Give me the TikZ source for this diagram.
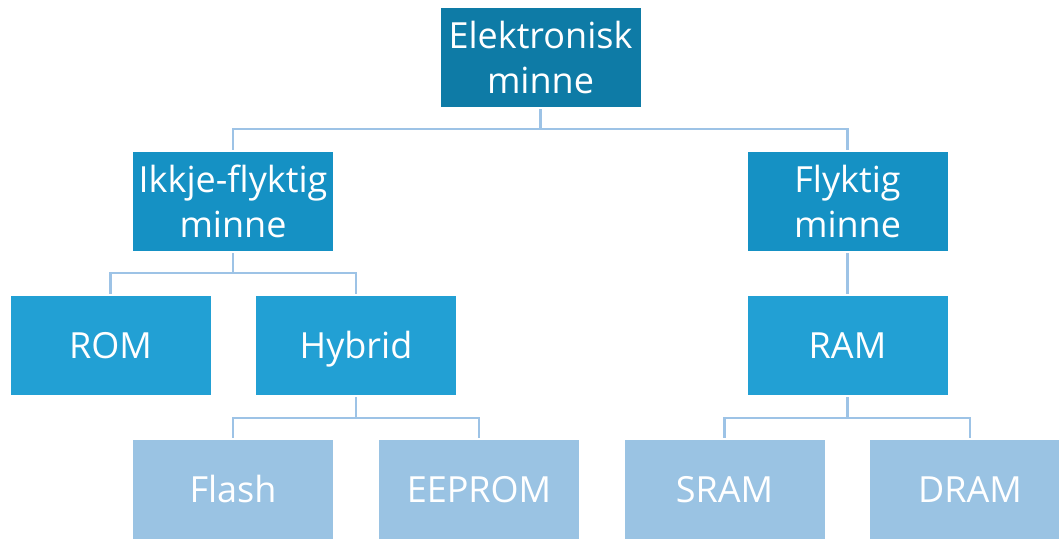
\documentclass[tikz,border=0pt]{standalone}
\usepackage{fontspec}
\setmainfont{Open Sans}
\definecolor{levelA}{RGB}{14,123,166}
\definecolor{levelB}{RGB}{21,145,196}
\definecolor{levelC}{RGB}{34,160,212}
\definecolor{levelD}{RGB}{154,195,227}
\definecolor{linkc}{RGB}{157,195,230}
\tikzset{
  memblock/.style={rectangle, inner sep=0pt, minimum width=150pt, minimum height=74pt,
    text=white, align=center, font=\fontsize{27}{34}\selectfont},
  oneline/.style={text height=21pt, text depth=2pt},
  link/.style={draw=linkc, line width=1.6pt},
}
\begin{document}
\begin{tikzpicture}[x=0.75pt, y=-0.75pt]
\useasboundingbox (0,0) rectangle (1059,539);
\clip (0,0) rectangle (1059,539);
% tree of memory types
\node[memblock, fill=levelA] (top) at (540.5,57.5) {Elektronisk\\minne};
\node[memblock, fill=levelB] (nv) at (233,201.5) {Ikkje-flyktig\\minne};
\node[memblock, fill=levelB] (vol) at (847.5,201.5) {Flyktig\\minne};
\node[memblock, oneline, fill=levelC] (rom) at (110.5,345.5) {ROM};
\node[memblock, oneline, fill=levelC] (hyb) at (356,345.5) {Hybrid};
\node[memblock, oneline, fill=levelC] (ram) at (847.5,345.5) {RAM};
\node[memblock, oneline, fill=levelD] (flash) at (233,489.5) {Flash};
\node[memblock, oneline, fill=levelD] (eeprom) at (479,489.5) {EEPROM};
\node[memblock, oneline, fill=levelD] (sram) at (724.5,489.5) {SRAM};
\node[memblock, oneline, fill=levelD] (dram) at (970,489.5) {DRAM};
% bus coordinates
\coordinate (b1) at (540.5,129);
\coordinate (b2) at (233,273);
\coordinate (b3) at (356,418);
\coordinate (b4) at (847.5,418);
% connectors
\draw[link] ([yshift=-1.5pt]top.south) -- (b1);
\draw[link] ([yshift=1.5pt]nv.north) |- (b1) -| ([yshift=1.5pt]vol.north);
\draw[link] ([yshift=-1.5pt]nv.south) -- (b2);
\draw[link] ([yshift=1.5pt]rom.north) |- (b2) -| ([yshift=1.5pt]hyb.north);
\draw[link] ([yshift=-1.5pt]vol.south) -- ([yshift=1.5pt]ram.north);
\draw[link] ([yshift=-1.5pt]hyb.south) -- (b3);
\draw[link] ([yshift=1.5pt]flash.north) |- (b3) -| ([yshift=1.5pt]eeprom.north);
\draw[link] ([yshift=-1.5pt]ram.south) -- (b4);
\draw[link] ([yshift=1.5pt]sram.north) |- (b4) -| ([yshift=1.5pt]dram.north);
\end{tikzpicture}
\end{document}
